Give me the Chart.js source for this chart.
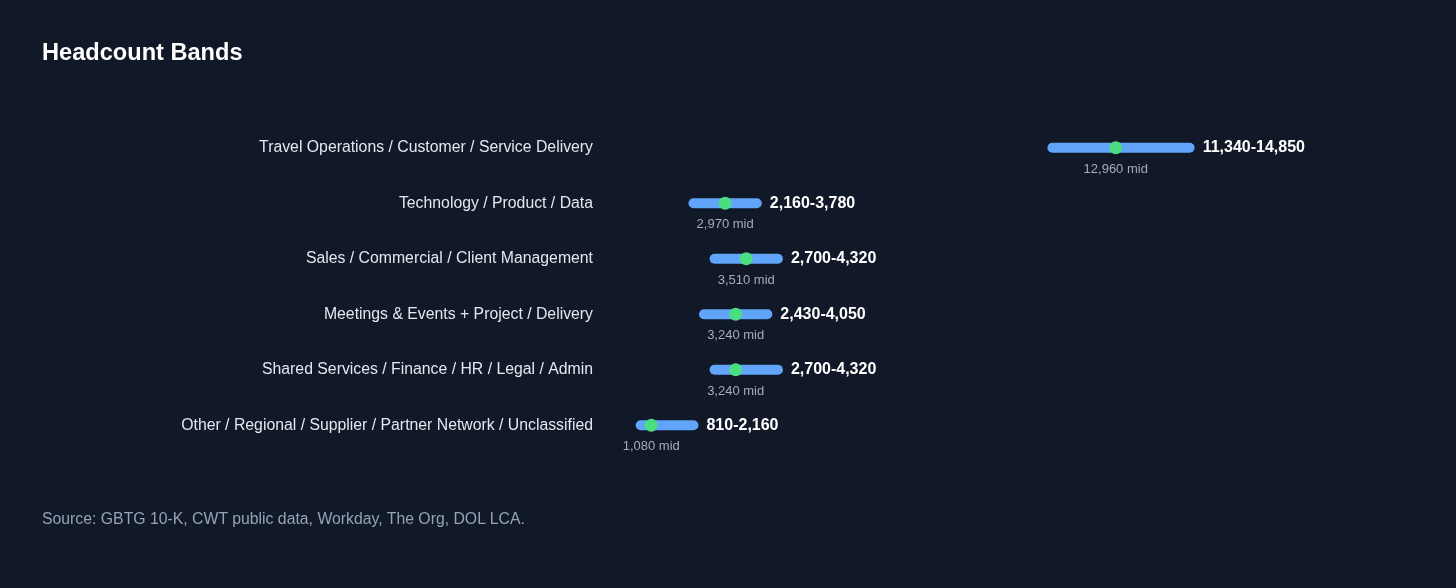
<!DOCTYPE html>
<html>
<head>
<meta charset="utf-8">
<script src="https://cdn.jsdelivr.net/npm/chart.js@4.4.1/dist/chart.umd.min.js"></script>
<style>
  html, body { margin: 0; padding: 0; background: #111827; width: 1456px; height: 588px; overflow: hidden; }
  body { position: relative; font-family: "Liberation Sans", Arial, Helvetica, sans-serif; }
  #title { position: absolute; left: 42px; top: 40px; font-size: 23.6px; line-height: 24px; font-weight: bold; color: #ffffff; margin: 0; }
  #source { position: absolute; left: 42px; top: 511px; font-size: 15.8px; line-height: 16px; color: #94a3b8; margin: 0; }
  #wrap { position: absolute; left: 0; top: 0; width: 1456px; height: 588px; }
</style>
</head>
<body>
<div id="wrap"><canvas id="c"></canvas></div>
<h1 id="title">Headcount Bands</h1>
<p id="source">Source: GBTG 10-K, CWT public data, Workday, The Org, DOL LCA.</p>
<script>
const categories = [
  "Travel Operations / Customer / Service Delivery",
  "Technology / Product / Data",
  "Sales / Commercial / Client Management",
  "Meetings & Events + Project / Delivery",
  "Shared Services / Finance / HR / Legal / Admin",
  "Other / Regional / Supplier / Partner Network / Unclassified"
];
const lowValues  = [11340, 2160, 2700, 2430, 2700, 810];
const highValues = [14850, 3780, 4320, 4050, 4320, 2160];
const midValues  = [12960, 2970, 3510, 3240, 3240, 1080];

const fmt = v => v.toLocaleString('en-US');

const rangeDatasets = categories.map((cat, i) => ({
  label: cat + " range",
  data: [{ x: lowValues[i], y: cat }, { x: highValues[i], y: cat }],
  showLine: true,
  borderColor: '#60a5fa',
  backgroundColor: '#60a5fa',
  borderWidth: 10,
  borderCapStyle: 'round',
  pointRadius: 0,
  pointHoverRadius: 0,
  order: 2
}));

const midDataset = {
  label: 'mid',
  data: categories.map((cat, i) => ({ x: midValues[i], y: cat })),
  showLine: false,
  pointRadius: 6.5,
  pointHoverRadius: 6.5,
  pointBackgroundColor: '#4ade80',
  pointBorderWidth: 0,
  borderWidth: 0,
  order: 1
};

const labelPlugin = {
  id: 'bandLabels',
  afterDatasetsDraw(chart) {
    const { ctx, scales: { x, y } } = chart;
    ctx.save();
    ctx.textBaseline = 'middle';
    categories.forEach((cat, i) => {
      const py = y.getPixelForValue(i);
      ctx.font = 'bold 16px "Liberation Sans", Arial, sans-serif';
      ctx.fillStyle = '#ffffff';
      ctx.textAlign = 'left';
      ctx.fillText(fmt(lowValues[i]) + '-' + fmt(highValues[i]), x.getPixelForValue(highValues[i]) + 13, py);
      ctx.font = '13px "Liberation Sans", Arial, sans-serif';
      ctx.fillStyle = '#a3acb9';
      ctx.textAlign = 'center';
      ctx.fillText(fmt(midValues[i]) + ' mid', x.getPixelForValue(midValues[i]), py + 21.5);
    });
    ctx.restore();
  }
};

new Chart(document.getElementById('c'), {
  type: 'scatter',
  data: { datasets: [midDataset, ...rangeDatasets] },
  options: {
    responsive: true,
    maintainAspectRatio: false,
    animation: false,
    events: [],
    layout: { padding: { left: 0, right: 65, top: 120, bottom: 135 } },
    plugins: { legend: { display: false }, tooltip: { enabled: false }, title: { display: false } },
    scales: {
      x: { type: 'linear', min: 0, max: 20000, display: false },
      y: {
        type: 'category',
        labels: categories,
        offset: true,
        grid: { display: false, drawTicks: false },
        border: { display: false },
        ticks: { color: '#e2e8f0', padding: 16, font: { size: 15.8, family: '"Liberation Sans", Arial, sans-serif' } },
        afterFit(scale) { scale.width = 609; }
      }
    }
  },
  plugins: [labelPlugin]
});
</script>
</body>
</html>
